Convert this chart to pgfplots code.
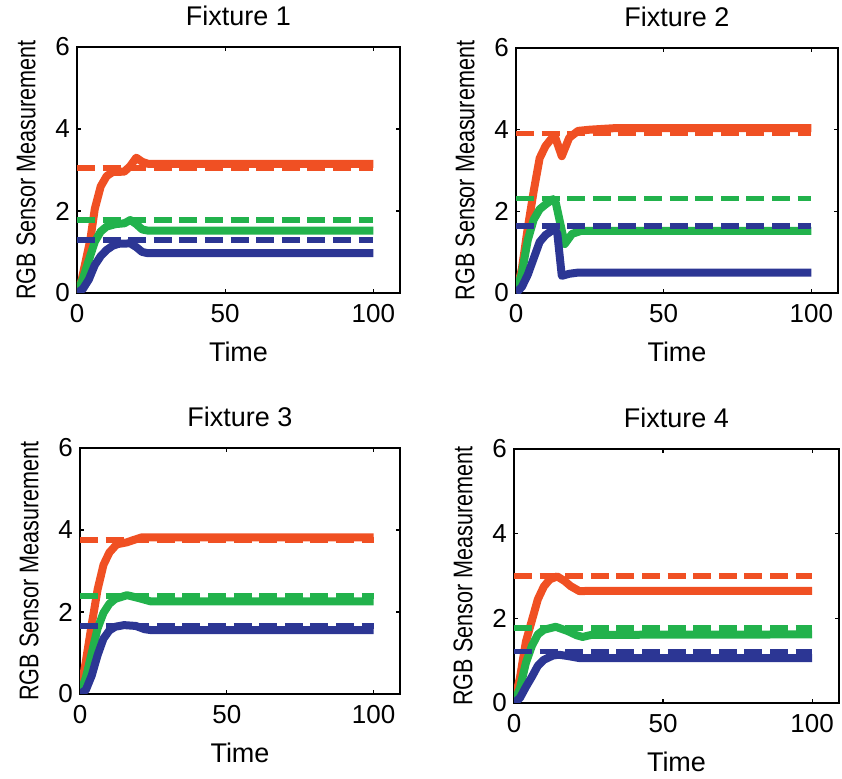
\documentclass[border=0pt]{standalone}
\usepackage{fontspec}
\setmainfont{Liberation Sans}
\newfontfamily\narrowfont[FakeStretch=0.8]{Liberation Sans}
\usepackage{pgfplots}
\pgfplotsset{compat=1.18}

\definecolor{cR}{RGB}{240,80,35}
\definecolor{cG}{RGB}{34,178,76}
\definecolor{cB}{RGB}{44,54,148}

\pgfplotsset{
  fixt/.style={
    scale only axis, anchor=north west,
    xmin=0, xmax=109, ymin=0, ymax=6,
    xtick={0,50,100}, ytick={0,2,4,6},
    tick align=inside, major tick length=2pt,
    axis line style={line width=0.7pt},
    every tick/.style={black, line width=0.6pt},
    /pgf/number format/assume math mode=true,
    tick label style={font=\fontsize{13}{14}\selectfont},
    xticklabel style={yshift=-2pt},
    title style={font=\fontsize{13.5}{14}\selectfont, yshift=1pt},
    xlabel=Time,
    xlabel style={font=\fontsize{13.5}{14}\selectfont, yshift=-3pt},
    ylabel={RGB Sensor Measurement},
    ylabel style={font=\narrowfont\fontsize{13.5}{14}\selectfont, yshift=3pt},
  },
  meas/.style={line width=4pt, line join=round},
  ref/.style={line width=2.7pt, dash pattern=on 9pt off 3.8pt},
}

\begin{document}
\begin{tikzpicture}
\useasboundingbox (0,0) rectangle (421pt,-389pt);

% Fixture 1
\begin{axis}[fixt, at={(38.5pt,-23.5pt)}, width=161.5pt, height=123pt, title={Fixture 1}]
\addplot[meas, cR] coordinates {(0,0)(1.5,0.3)(3,0.8)(4.5,1.3)(6,2.05)(8,2.6)(10,2.85)(12,2.95)(16,2.96)(18,3.1)(20,3.3)(22,3.2)(24,3.15)(100,3.15)};
\addplot[meas, cG] coordinates {(0,0)(2,0.35)(4,0.8)(6,1.25)(8,1.5)(10,1.62)(13,1.68)(16,1.7)(18,1.78)(20,1.68)(22,1.55)(24,1.52)(100,1.52)};
\addplot[meas, cB] coordinates {(0,0)(2,0.1)(4,0.33)(6,0.68)(8,0.9)(10,1.05)(12,1.15)(14,1.2)(18,1.21)(20,1.12)(22,1.0)(24,0.97)(100,0.97)};
\addplot[ref, cR] coordinates {(0,3.05)(100,3.05)};
\addplot[ref, cG] coordinates {(0,1.78)(100,1.78)};
\addplot[ref, cB] coordinates {(0,1.29)(100,1.29)};
\end{axis}

% Fixture 2
\begin{axis}[fixt, at={(258pt,-24pt)}, width=161pt, height=122.5pt, title={Fixture 2}]
\addplot[meas, cR] coordinates {(0,0)(2,0.6)(4,1.6)(6,2.5)(8,3.3)(10,3.6)(13,3.87)(15.5,3.35)(18,3.8)(21,3.97)(25,4.0)(34,4.04)(100,4.04)};
\addplot[meas, cG] coordinates {(0,0)(2,0.5)(4,1.3)(6,1.8)(8,2.05)(10,2.17)(12.5,2.3)(13.5,2.2)(16.5,1.2)(19,1.45)(22,1.52)(100,1.52)};
\addplot[meas, cB] coordinates {(0,0)(2,0.15)(4,0.45)(6,0.85)(8,1.25)(10,1.42)(13,1.57)(14,1.45)(15.5,0.42)(18,0.47)(21,0.5)(100,0.5)};
\addplot[ref, cR] coordinates {(0,3.9)(100,3.9)};
\addplot[ref, cG] coordinates {(0,2.32)(100,2.32)};
\addplot[ref, cB] coordinates {(0,1.64)(100,1.64)};
\end{axis}

% Fixture 3
\begin{axis}[fixt, at={(40pt,-224pt)}, width=160pt, height=123pt, title={Fixture 3}]
\addplot[meas, cR] coordinates {(0,0)(2,0.8)(4,1.7)(6,2.55)(8,3.15)(10,3.45)(12.5,3.65)(16,3.7)(18,3.75)(21,3.82)(25,3.82)(100,3.82)};
\addplot[meas, cG] coordinates {(0,0)(2,0.4)(4,1.0)(6,1.6)(8,1.98)(10,2.2)(12,2.32)(16,2.41)(20,2.34)(24,2.26)(100,2.26)};
\addplot[meas, cB] coordinates {(0,0)(2,0.1)(4,0.45)(6,0.95)(8,1.35)(10,1.55)(12,1.64)(15,1.68)(19,1.66)(22,1.58)(24,1.56)(100,1.56)};
\addplot[ref, cR] coordinates {(0,3.76)(100,3.76)};
\addplot[ref, cG] coordinates {(0,2.39)(100,2.39)};
\addplot[ref, cB] coordinates {(0,1.66)(100,1.66)};
\end{axis}

% Fixture 4
\begin{axis}[fixt, at={(257pt,-224.5pt)}, width=162.5pt, height=127pt, title={Fixture 4}]
\addplot[meas, cR] coordinates {(0,0)(2,0.6)(4,1.45)(6,1.95)(8,2.45)(10,2.75)(12,2.92)(14.5,2.99)(17,2.88)(19,2.76)(22,2.64)(25,2.65)(100,2.65)};
\addplot[meas, cG] coordinates {(0,0)(2,0.35)(4,0.95)(6,1.35)(8,1.62)(10,1.73)(14,1.8)(18,1.7)(21,1.6)(23,1.56)(26,1.61)(100,1.62)};
\addplot[meas, cB] coordinates {(0,0)(2,0.12)(4,0.38)(6,0.62)(8,0.88)(10,1.02)(13,1.12)(15,1.14)(18,1.11)(22,1.06)(100,1.06)};
\addplot[ref, cR] coordinates {(0,3.0)(100,3.0)};
\addplot[ref, cG] coordinates {(0,1.77)(100,1.77)};
\addplot[ref, cB] coordinates {(0,1.21)(100,1.21)};
\end{axis}
\end{tikzpicture}
\end{document}
